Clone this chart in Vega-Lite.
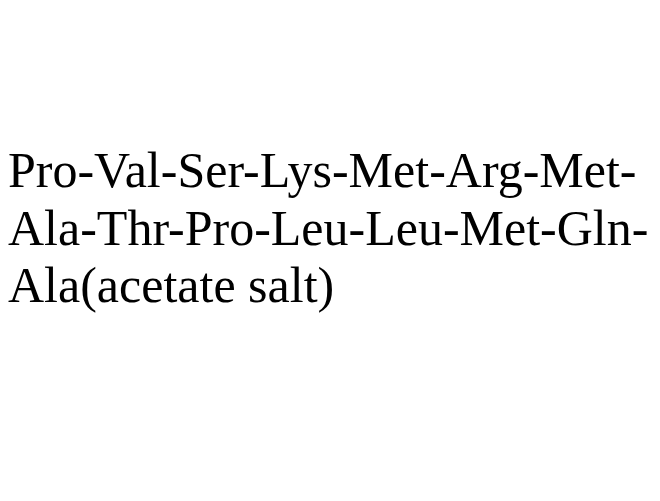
{
  "$schema": "https://vega.github.io/schema/vega-lite/v6.json",
  "autosize": {"type": "fit", "contains": "padding"},
  "width": 660,
  "height": 501,
  "padding": 0,
  "background": "white",
  "config": {"view": {"stroke": null}},
  "data": {
    "values": [
      {"line": 1, "label": "Pro-Val-Ser-Lys-Met-Arg-Met-"},
      {"line": 2, "label": "Ala-Thr-Pro-Leu-Leu-Met-Gln-"},
      {"line": 3, "label": "Ala(acetate salt)"}
    ]
  },
  "mark": {
    "type": "text",
    "font": "Liberation Serif",
    "fontSize": 50,
    "align": "left",
    "baseline": "alphabetic",
    "color": "black",
    "dx": 8
  },
  "encoding": {
    "x": {"datum": 0, "type": "quantitative", "scale": {"domain": [0, 1]}, "axis": null},
    "y": {
      "field": "line",
      "type": "quantitative",
      "scale": {"domain": [0, 8.713], "range": [129.5, 631.5], "zero": false, "nice": false},
      "axis": null
    },
    "text": {"field": "label"}
  }
}
